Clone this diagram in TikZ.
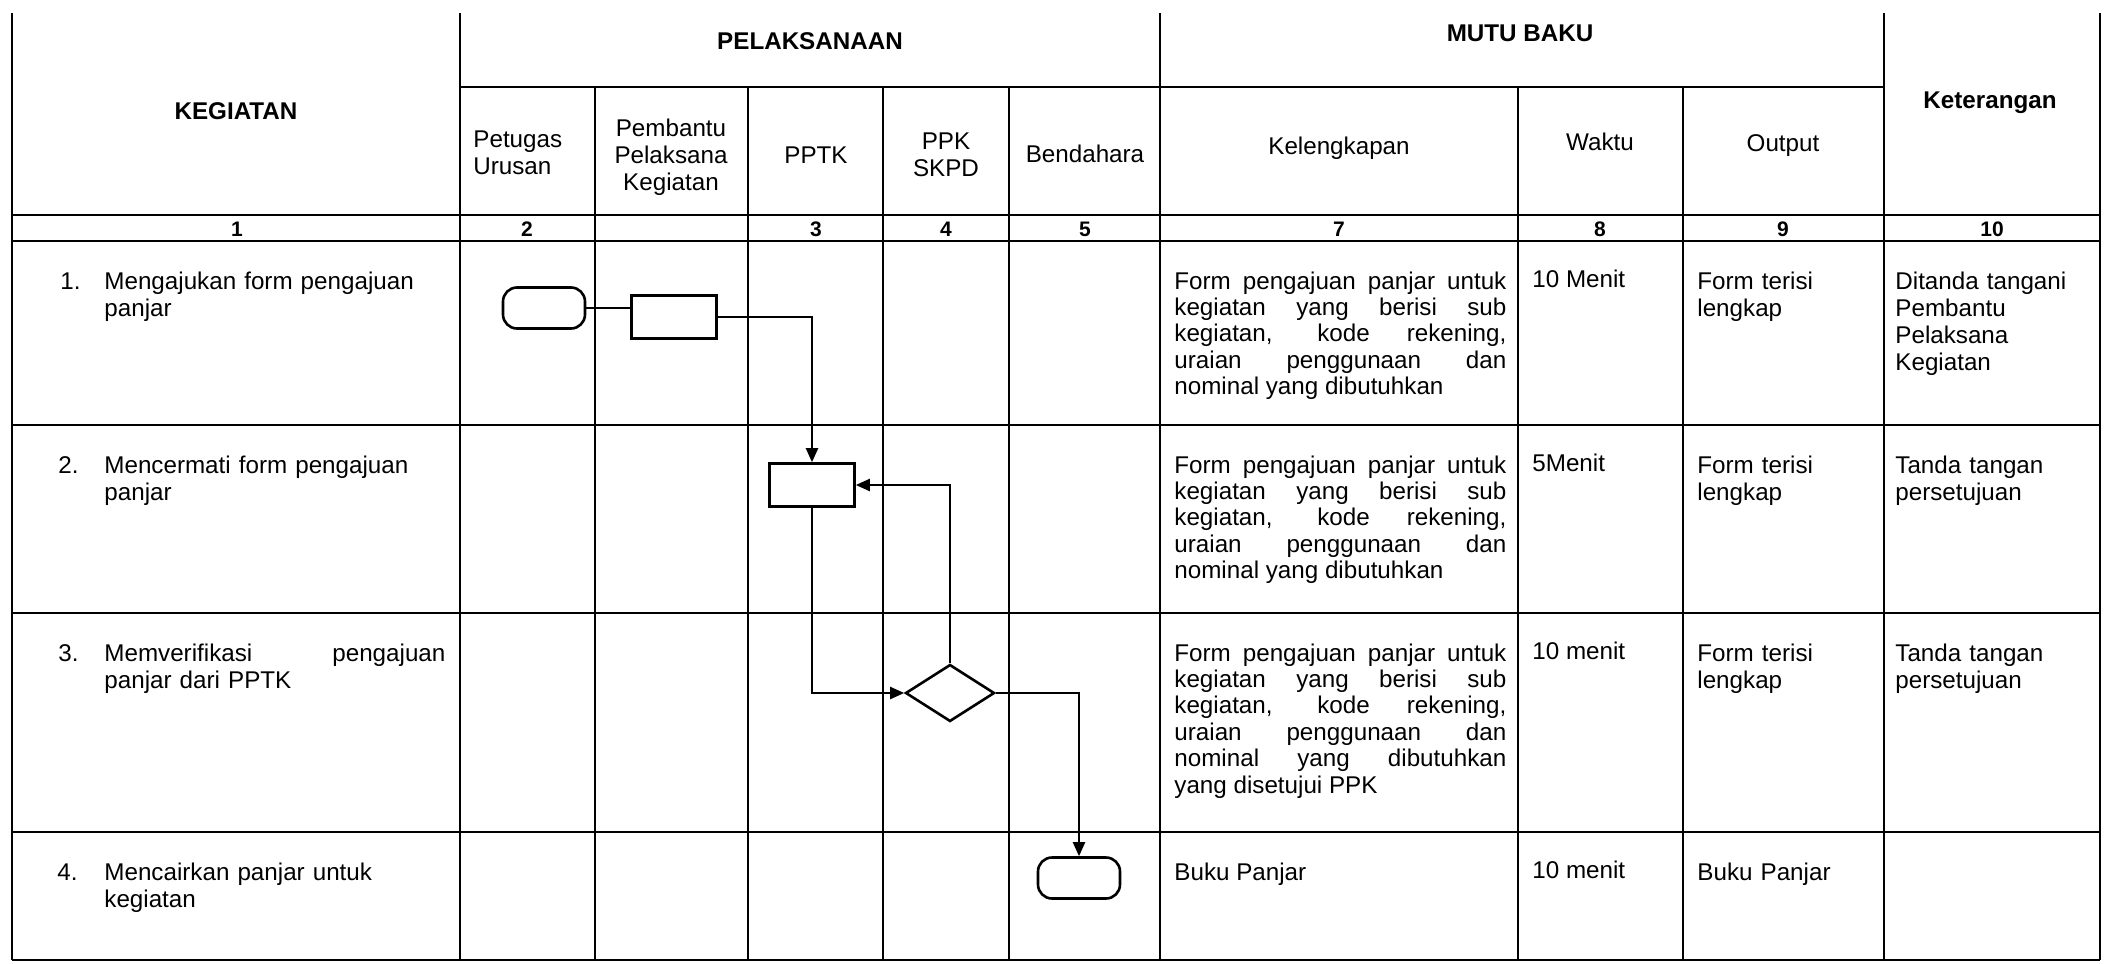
\documentclass[tikz,border=0pt]{standalone}
\usepackage{fontspec}
\setmainfont{Liberation Sans}
\usetikzlibrary{shapes.geometric,arrows.meta}
\begin{document}
\begin{tikzpicture}[x=0.5pt,y=-0.5pt,
  grid/.style={line width=1pt},
  shp/.style={draw, line width=1.3pt, inner sep=0pt},
  term/.style={shp, rounded corners=7pt, minimum width=41pt, minimum height=20.5pt},
  proc/.style={shp, minimum width=42.5pt, minimum height=21.5pt},
  dec/.style={shp, diamond, minimum width=44.5pt, minimum height=28.5pt},
  flow/.style={line width=1.1pt, -{Triangle[length=7pt,width=6pt]}},
  link/.style={line width=1.1pt},
  hb/.style={font=\fontsize{12.1}{13.6}\selectfont\bfseries, inner sep=0pt},
  hn/.style={font=\fontsize{12.1}{13.6}\selectfont, inner sep=0pt},
  num/.style={font=\fontsize{10.5}{12}\selectfont\bfseries, inner sep=0pt},
  txt/.style={font=\fontsize{12.1}{13.6}\selectfont, inner sep=0pt, anchor=base west, align=left},
  kel/.style={font=\fontsize{12.1}{13.2}\selectfont, inner sep=0pt, anchor=base west, align=justify, text width=166pt}
]
\fill[white] (0,0) rectangle (2116,964);
\useasboundingbox (0,0) rectangle (2116,964);

% table grid
\foreach \x in {12,460,1160,1884,2100} \draw[grid] (\x,13) -- (\x,960);
\foreach \x in {595,748,883,1009,1518,1683} \draw[grid] (\x,87) -- (\x,960);
\draw[grid] (460,87) -- (1884,87);
\foreach \y in {215,241,425,613,832,960} \draw[grid] (12,\y) -- (2100,\y);

% headers
\node[hb] (hKeg) at (236,111) {KEGIATAN};
\node[hb] (hPel) at (810,41) {PELAKSANAAN};
\node[hb] (hMutu) at (1520,33) {MUTU BAKU};
\node[hb] (hKet) at (1990,103) {Keterangan};
\node[hn, align=left, anchor=west] (hPet) at (473,153) {Petugas\\Urusan};
\node[hn, align=center] (hPem) at (671,157) {Pembantu\\Pelaksana\\Kegiatan};
\node[hn] (hPptk) at (816,155) {PPTK};
\node[hn, align=center] (hPpk) at (946,155) {PPK\\SKPD};
\node[hn] (hBen) at (1085,154) {Bendahara};
\node[hn] (hKel) at (1339,148) {Kelengkapan};
\node[hn] (hWak) at (1600,142) {Waktu};
\node[hn] (hOut) at (1783,146) {Output};

% column numbers
\node[num] (c1) at (237,229) {1};
\node[num] (c2) at (527,229) {2};
\node[num] (c3) at (816,229) {3};
\node[num] (c4) at (946,229) {4};
\node[num] (c5) at (1085,229) {5};
\node[num] (c7) at (1339,229) {7};
\node[num] (c8) at (1600,229) {8};
\node[num] (c9) at (1783,229) {9};
\node[num] (c10) at (1992,229) {10};

% column 1: activities
\node[txt] (n1) at (60,289) {1.};
\node[txt, text width=170.5pt] (k1) at (104,289) {Mengajukan form pengajuan\\panjar};
\node[txt] (n2) at (58,473) {2.};
\node[txt, text width=170.5pt] (k2) at (104,473) {Mencermati form pengajuan\\panjar};
\node[txt] (n3) at (58,661) {3.};
\node[txt, text width=170.5pt] (k3) at (104,661) {Memverifikasi\hfill pengajuan\\panjar dari PPTK};
\node[txt] (n4) at (57,880) {4.};
\node[txt, text width=170.5pt] (k4) at (104,880) {Mencairkan panjar untuk\\kegiatan};

% Kelengkapan
\node[kel] (l1) at (1174,289) {Form pengajuan panjar untuk\linebreak kegiatan yang berisi sub\linebreak kegiatan, kode rekening,\linebreak uraian penggunaan dan\linebreak nominal yang dibutuhkan};
\node[kel] (l2) at (1174,473) {Form pengajuan panjar untuk\linebreak kegiatan yang berisi sub\linebreak kegiatan, kode rekening,\linebreak uraian penggunaan dan\linebreak nominal yang dibutuhkan};
\node[kel] (l3) at (1174,661) {Form pengajuan panjar untuk\linebreak kegiatan yang berisi sub\linebreak kegiatan, kode rekening,\linebreak uraian penggunaan dan\linebreak nominal yang dibutuhkan\linebreak yang disetujui PPK};
\node[kel] (l4) at (1174,880) {Buku Panjar};

% Waktu
\node[txt] (w1) at (1532,287) {10 Menit};
\node[txt] (w2) at (1532,471) {5Menit};
\node[txt] (w3) at (1532,659) {10 menit};
\node[txt] (w4) at (1532,878) {10 menit};

% Output
\node[txt, text width=90pt] (o1) at (1697,289) {Form terisi\\lengkap};
\node[txt, text width=90pt] (o2) at (1697,473) {Form terisi\\lengkap};
\node[txt, text width=90pt] (o3) at (1697,661) {Form terisi\\lengkap};
\node[txt, text width=90pt] (o4) at (1697,880) {Buku Panjar};

% Keterangan
\node[txt, text width=100pt] (e1) at (1895,289) {Ditanda tangani\\Pembantu\\Pelaksana\\Kegiatan};
\node[txt, text width=100pt] (e2) at (1895,473) {Tanda tangan\\persetujuan};
\node[txt, text width=100pt] (e3) at (1895,661) {Tanda tangan\\persetujuan};

% flowchart shapes
\node[term] (t1) at (544,308) {};
\node[proc] (r1) at (674,317) {};
\node[proc] (r2) at (812,485) {};
\node[dec] (d) at (950,693) {};
\node[term] (t2) at (1079,878) {};

% connectors
\draw[link] (t1.east) -- (t1.east -| r1.west);
\draw[flow] (r1.east) -| (r2.north);
\draw[flow] (r2.south) |- (d.west);
\draw[flow] (d.north) |- (r2.east);
\draw[flow] (d.east) -| (t2.north);
\end{tikzpicture}
\end{document}
